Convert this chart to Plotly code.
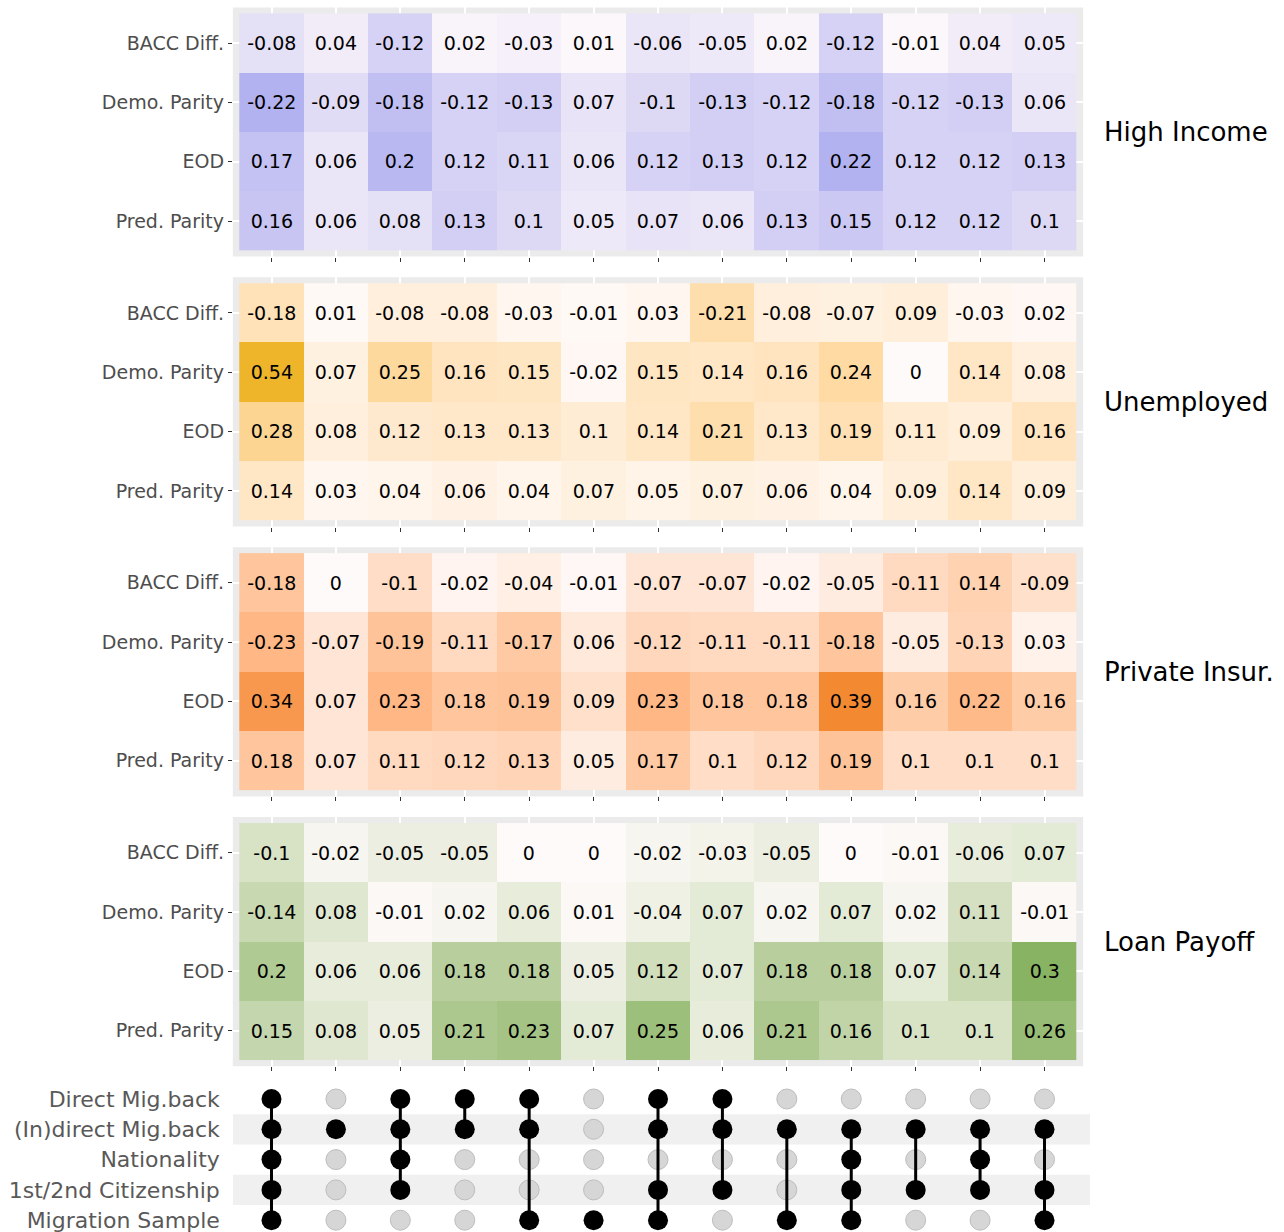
import plotly.graph_objects as go

# ---- data -------------------------------------------------------------
metrics = ["BACC Diff.", "Demo. Parity", "EOD", "Pred. Parity"]
groups = ["High Income", "Unemployed", "Private Insur.", "Loan Payoff"]
n_cols = 13

high_income = [
    [-0.08, 0.04, -0.12, 0.02, -0.03, 0.01, -0.06, -0.05, 0.02, -0.12, -0.01, 0.04, 0.05],
    [-0.22, -0.09, -0.18, -0.12, -0.13, 0.07, -0.1, -0.13, -0.12, -0.18, -0.12, -0.13, 0.06],
    [0.17, 0.06, 0.2, 0.12, 0.11, 0.06, 0.12, 0.13, 0.12, 0.22, 0.12, 0.12, 0.13],
    [0.16, 0.06, 0.08, 0.13, 0.1, 0.05, 0.07, 0.06, 0.13, 0.15, 0.12, 0.12, 0.1],
]
unemployed = [
    [-0.18, 0.01, -0.08, -0.08, -0.03, -0.01, 0.03, -0.21, -0.08, -0.07, 0.09, -0.03, 0.02],
    [0.54, 0.07, 0.25, 0.16, 0.15, -0.02, 0.15, 0.14, 0.16, 0.24, 0, 0.14, 0.08],
    [0.28, 0.08, 0.12, 0.13, 0.13, 0.1, 0.14, 0.21, 0.13, 0.19, 0.11, 0.09, 0.16],
    [0.14, 0.03, 0.04, 0.06, 0.04, 0.07, 0.05, 0.07, 0.06, 0.04, 0.09, 0.14, 0.09],
]
private_insur = [
    [-0.18, 0, -0.1, -0.02, -0.04, -0.01, -0.07, -0.07, -0.02, -0.05, -0.11, 0.14, -0.09],
    [-0.23, -0.07, -0.19, -0.11, -0.17, 0.06, -0.12, -0.11, -0.11, -0.18, -0.05, -0.13, 0.03],
    [0.34, 0.07, 0.23, 0.18, 0.19, 0.09, 0.23, 0.18, 0.18, 0.39, 0.16, 0.22, 0.16],
    [0.18, 0.07, 0.11, 0.12, 0.13, 0.05, 0.17, 0.1, 0.12, 0.19, 0.1, 0.1, 0.1],
]
loan_payoff = [
    [-0.1, -0.02, -0.05, -0.05, 0, 0, -0.02, -0.03, -0.05, 0, -0.01, -0.06, 0.07],
    [-0.14, 0.08, -0.01, 0.02, 0.06, 0.01, -0.04, 0.07, 0.02, 0.07, 0.02, 0.11, -0.01],
    [0.2, 0.06, 0.06, 0.18, 0.18, 0.05, 0.12, 0.07, 0.18, 0.18, 0.07, 0.14, 0.3],
    [0.15, 0.08, 0.05, 0.21, 0.23, 0.07, 0.25, 0.06, 0.21, 0.16, 0.1, 0.1, 0.26],
]
panel_values = [high_income, unemployed, private_insur, loan_payoff]
panel_colors = ["#b2b2f0", "#eeb42a", "#f38a32", "#88b362"]
low_color = "#fffafa"

set_names = ["Direct Mig.back", "(In)direct Mig.back", "Nationality",
             "1st/2nd Citizenship", "Migration Sample"]
# one entry per column: membership flag for each set (top to bottom)
membership = [
    [1, 1, 1, 1, 1],
    [0, 1, 0, 0, 0],
    [1, 1, 1, 1, 0],
    [1, 1, 0, 0, 0],
    [1, 1, 0, 0, 1],
    [0, 0, 0, 0, 1],
    [1, 1, 0, 1, 1],
    [1, 1, 0, 1, 0],
    [0, 1, 0, 0, 1],
    [0, 1, 1, 1, 1],
    [0, 1, 0, 1, 0],
    [0, 1, 1, 1, 0],
    [0, 1, 0, 1, 1],
]

# ---- geometry (pixels) --------------------------------------------------
W, H = 1284, 1232
FONT = "DejaVu Sans"
x_dom = [232.85 / W, 1083.15 / W]
panel_top0, panel_step, panel_h = 7.4, 269.9, 249.2
dot_top = 1084.0
dot_row0, dot_step = 1099.0, 30.3


def fmt(v):
    s = f"{v:g}"
    return "0" if s in ("0", "-0") else s


# ---- Lab-interpolated sequential colour scale ---------------------------
def _hex_to_rgb(h):
    h = h.lstrip("#")
    return [int(h[i:i + 2], 16) / 255 for i in (0, 2, 4)]


def _lin(c):
    return c / 12.92 if c <= 0.04045 else ((c + 0.055) / 1.055) ** 2.4


def _gam(c):
    c = max(0.0, min(1.0, c))
    return 12.92 * c if c <= 0.0031308 else 1.055 * c ** (1 / 2.4) - 0.055


_WP = (0.95047, 1.0, 1.08883)


def _rgb_to_lab(rgb):
    r, g, b = (_lin(c) for c in rgb)
    x = 0.4124 * r + 0.3576 * g + 0.1805 * b
    y = 0.2126 * r + 0.7152 * g + 0.0722 * b
    z = 0.0193 * r + 0.1192 * g + 0.9505 * b
    def f(t):
        return t ** (1 / 3) if t > 0.008856 else 7.787 * t + 16 / 116
    fx, fy, fz = f(x / _WP[0]), f(y / _WP[1]), f(z / _WP[2])
    return (116 * fy - 16, 500 * (fx - fy), 200 * (fy - fz))


def _lab_to_hex(lab):
    L, a, b = lab
    fy = (L + 16) / 116
    fx = fy + a / 500
    fz = fy - b / 200
    def finv(t):
        return t ** 3 if t ** 3 > 0.008856 else (t - 16 / 116) / 7.787
    x, y, z = finv(fx) * _WP[0], finv(fy) * _WP[1], finv(fz) * _WP[2]
    r = 3.2406 * x - 1.5372 * y - 0.4986 * z
    g = -0.9689 * x + 1.8758 * y + 0.0415 * z
    bb = 0.0557 * x - 0.2040 * y + 1.0570 * z
    return "#" + "".join(f"{round(_gam(c) * 255):02x}" for c in (r, g, bb))


def lab_scale(lo, hi, n=11):
    a, b = _rgb_to_lab(_hex_to_rgb(lo)), _rgb_to_lab(_hex_to_rgb(hi))
    out = []
    for i in range(n):
        t = i / (n - 1)
        out.append([t, _lab_to_hex([a[j] + (b[j] - a[j]) * t for j in range(3)])])
    return out


fig = go.Figure()
layout = dict(
    width=W, height=H, autosize=False,
    margin=dict(l=0, r=0, t=0, b=0),
    paper_bgcolor="white", plot_bgcolor="white",
    showlegend=False,
    font=dict(family=FONT),
    shapes=[], annotations=[],
)

cols = list(range(n_cols))

for k, (vals, color) in enumerate(zip(panel_values, panel_colors)):
    ax = "" if k == 0 else str(k + 1)
    top = panel_top0 + k * panel_step
    bot = top + panel_h
    y_dom = [1 - bot / H, 1 - top / H]
    zabs = [[abs(v) for v in row] for row in vals]
    zmax = max(max(r) for r in zabs)
    fig.add_trace(go.Heatmap(
        x=cols, y=list(range(len(metrics))), z=zabs,
        text=[[fmt(v) for v in row] for row in vals],
        texttemplate="%{text}",
        textfont=dict(family=FONT, size=19, color="black"),
        colorscale=lab_scale(low_color, color),
        zmin=0, zmax=zmax, showscale=False, hoverinfo="skip",
        xaxis="x" + ax, yaxis="y" + ax,
    ))
    layout["xaxis" + ax] = dict(
        domain=x_dom, range=[-0.6, n_cols - 0.4], anchor="y" + ax,
        tickvals=cols, showticklabels=False, ticks="outside", ticklen=4,
        tickwidth=1.3, tickcolor="#333333", showgrid=True, gridcolor="white",
        gridwidth=2, zeroline=False, showline=False, fixedrange=True,
    )
    layout["yaxis" + ax] = dict(
        domain=y_dom, range=[len(metrics) - 0.4, -0.6], anchor="x" + ax,
        tickvals=list(range(len(metrics))), ticktext=metrics,
        tickfont=dict(family=FONT, size=19, color="#4d4d4d"),
        ticks="outside", ticklen=4, tickwidth=1.3, tickcolor="#333333",
        showgrid=True, gridcolor="white", gridwidth=2,
        zeroline=False, showline=False, fixedrange=True,
    )
    # grey panel background
    layout["shapes"].append(dict(
        type="rect", xref="x" + ax + " domain", yref="y" + ax + " domain",
        x0=0, x1=1, y0=0, y1=1, fillcolor="#ebebeb", line=dict(width=0),
        layer="below",
    ))
    layout["annotations"].append(dict(
        text=groups[k], xref="paper", yref="paper",
        x=1105 / W, y=1 - (top + panel_h / 2) / H, xshift=-3,
        xanchor="left", yanchor="middle", showarrow=False,
        font=dict(family=FONT, size=26, color="black"),
    ))

# ---- set-membership matrix ---------------------------------------------
dx = "x5"
dy = "y5"
n_sets = len(set_names)
y_lo = (H - dot_row0) / dot_step
y_hi = -(dot_row0 - dot_top) / dot_step
layout["xaxis5"] = dict(
    domain=x_dom, range=[-0.6, n_cols - 0.4], anchor="y5",
    showticklabels=False, ticks="", showgrid=False, zeroline=False,
    showline=False, fixedrange=True,
)
layout["yaxis5"] = dict(
    domain=[0, 1 - dot_top / H], range=[y_lo, y_hi], anchor="x5",
    tickvals=list(range(n_sets)), ticktext=set_names,
    tickfont=dict(family=FONT, size=22, color="#595959"),
    ticks="", ticklabelstandoff=12, ticklabeloverflow="allow",
    showgrid=False, zeroline=False, showline=False, fixedrange=True,
)
for r in (1, 3):
    layout["shapes"].append(dict(
        type="rect", xref="paper", yref=dy,
        x0=233 / W, x1=1090 / W, y0=r - 0.5, y1=r + 0.5,
        fillcolor="#f0f0f0", line=dict(width=0), layer="below",
    ))

off_x, off_y, on_x, on_y = [], [], [], []
for c, flags in enumerate(membership):
    for r, f in enumerate(flags):
        if f:
            on_x.append(c)
            on_y.append(r)
        else:
            off_x.append(c)
            off_y.append(r)

fig.add_trace(go.Scatter(
    x=off_x, y=off_y, mode="markers", xaxis=dx, yaxis=dy,
    marker=dict(size=20, color="#d6d6d6", line=dict(color="#bdbdbd", width=1)),
    hoverinfo="skip",
))
for c, flags in enumerate(membership):
    rows = [r for r, f in enumerate(flags) if f]
    if len(rows) > 1:
        fig.add_trace(go.Scatter(
            x=[c, c], y=[min(rows), max(rows)], mode="lines",
            xaxis=dx, yaxis=dy, line=dict(color="black", width=3),
            hoverinfo="skip",
        ))
fig.add_trace(go.Scatter(
    x=on_x, y=on_y, mode="markers", xaxis=dx, yaxis=dy,
    marker=dict(size=20, color="black"), hoverinfo="skip",
))

fig.update_layout(**layout)
fig.write_html("out.html")
